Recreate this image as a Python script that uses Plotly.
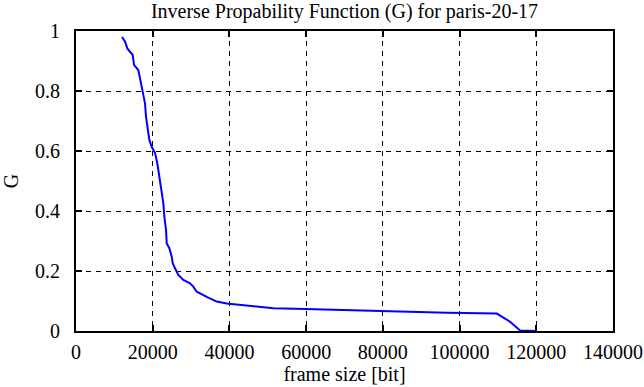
import plotly.graph_objects as go

frame_size = [11995, 12777, 13377, 14081, 14785, 15124, 16245, 16688, 17132, 17549,
              17992, 18253, 18592, 19113, 19739, 20600, 21199, 21460, 21721, 22347,
              22764, 23025, 23468, 23651, 24329, 24954, 25215, 25815, 26675, 27979,
              29726, 30587, 31473, 34081, 36688, 39296, 42764, 47536, 51450, 59713,
              65372, 73195, 81017, 96662, 109700, 111421, 113168, 115776, 119948]
g_values = [0.98, 0.965, 0.942, 0.93, 0.92, 0.887, 0.87, 0.842, 0.814, 0.792,
            0.759, 0.714, 0.681, 0.637, 0.614, 0.593, 0.559, 0.537, 0.50, 0.459,
            0.426, 0.381, 0.337, 0.292, 0.276, 0.248, 0.226, 0.209, 0.187, 0.17,
            0.159, 0.148, 0.131, 0.114, 0.098, 0.092, 0.087, 0.081, 0.076, 0.073,
            0.071, 0.068, 0.065, 0.061, 0.058, 0.046, 0.031, 0.002, 0.0]

x_ticks = [0, 20000, 40000, 60000, 80000, 100000, 120000, 140000]
y_ticks = [0, 0.2, 0.4, 0.6, 0.8, 1]
y_tick_labels = ["0", "0.2", "0.4", "0.6", "0.8", "1"]

FONT = "Liberation Serif"

fig = go.Figure()
fig.add_trace(go.Scatter(x=frame_size, y=g_values, mode="lines",
                         line=dict(color="#0000ff", width=2), showlegend=False,
                         hoverinfo="skip"))

axis_common = dict(showline=True, linecolor="black", linewidth=2, mirror="ticks",
                   ticks="inside", ticklen=6, tickwidth=2, tickcolor="black",
                   showgrid=True, gridcolor="black", gridwidth=1, griddash="5px,5px",
                   zeroline=False, automargin=False,
                   tickfont=dict(family=FONT, size=20, color="black"))

fig.update_xaxes(range=[0, 140000], tickvals=x_ticks,
                 ticktext=[str(v) for v in x_ticks], ticklabelstandoff=2,
                 title=dict(text="frame size [bit]", font=dict(family=FONT, size=20, color="black"),
                            standoff=2),
                 **axis_common)
fig.update_yaxes(range=[0, 1], tickvals=y_ticks, ticktext=y_tick_labels,
                 ticklabelstandoff=10,
                 title=dict(text="G", font=dict(family=FONT, size=20, color="black"),
                            standoff=14),
                 **axis_common)

fig.update_layout(
    width=644, height=387,
    margin=dict(l=76, r=31, t=31, b=56),
    paper_bgcolor="white", plot_bgcolor="white",
    title=dict(text="Inverse Propability Function (G) for paris-20-17",
               x=0.5, xref="paper", y=1 - 11 / 387, yref="container", yanchor="middle",
               font=dict(family=FONT, size=20, color="black")),
    font=dict(family=FONT, color="black"),
)

fig.write_html("out.html", config={"displayModeBar": False},
               post_script="document.body.style.margin='0';")
